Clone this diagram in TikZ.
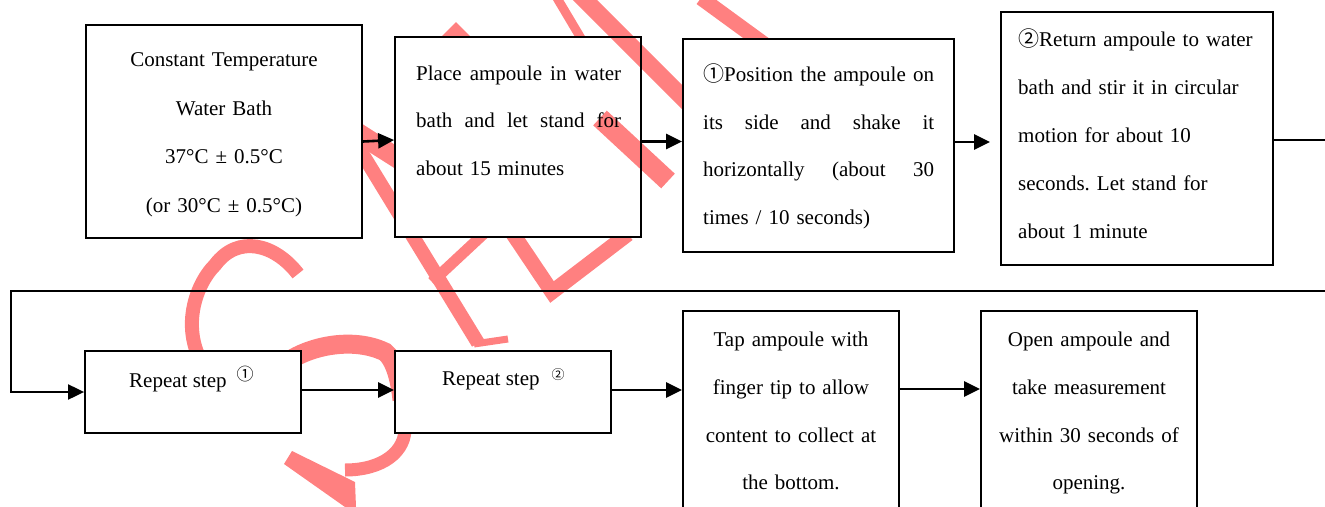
\documentclass[tikz,border=0pt]{standalone}
\usepackage{fontspec}
\setmainfont{Liberation Serif}
\newfontfamily\circfont{Noto Sans CJK SC}
\usetikzlibrary{arrows.meta,calc}
\pgfdeclarelayer{wm}
\pgfdeclarelayer{fills}
\pgfdeclarelayer{wmover}
\pgfsetlayers{wm,fills,wmover,main}
\definecolor{wmred}{RGB}{255,128,128}
\frenchspacing
\tikzset{
  box/.style={draw, line width=1.8pt, inner sep=0pt},
  txt/.style={inner sep=0pt},
  arr/.style={line width=2.6pt, -{Triangle[length=16pt,width=15pt]}},
  wmstroke/.style={draw=wmred, line cap=butt},
}
\newcommand{\jline}[2]{\leavevmode\hbox to #1{#2}}
\begin{document}
\begin{tikzpicture}[x=1pt,y=-1pt]
\useasboundingbox (0,0) rectangle (1325,506);

% ---------- boxes ----------
\node[box, minimum width=276pt, minimum height=213pt] (b1) at (224,131.5) {};
\node[box, minimum width=246pt, minimum height=200pt] (b2) at (518,137) {};
\node[box, minimum width=271pt, minimum height=213pt] (b3) at (818.5,145.5) {};
\node[box, minimum width=272pt, minimum height=253pt] (b4) at (1137,138.5) {};
\node[box, minimum width=216pt, minimum height=82pt] (r1) at (193,392) {};
\node[box, minimum width=216pt, minimum height=82pt] (r2) at (503,392) {};
\node[box, minimum width=216pt, minimum height=220pt] (tap) at (791,421) {};
\node[box, minimum width=216pt, minimum height=220pt] (open) at (1089,421) {};

% ---------- texts ----------
\node[txt, text width=276pt, align=center, anchor=base, font=\fontsize{21}{48.5}\selectfont] (t1) at (224,66.7)
  {Constant Temperature\\Water Bath\\37°C ± 0.5°C\\(or 30°C ± 0.5°C)};
\node[txt, text width=207pt, align=left, anchor=base west, font=\fontsize{21}{47.5}\selectfont] (t2) at (416,80)
  {\jline{205pt}{Place\hfill ampoule\hfill in\hfill water}\\\jline{205pt}{bath\hfill and\hfill let\hfill stand\hfill for}\\about 15 minutes};
\node[txt, text width=233pt, align=left, anchor=base west, font=\fontsize{21}{47.5}\selectfont] (t3) at (703,81.7)
  {\jline{231pt}{{\circfont ①}Position\hfill the\hfill ampoule\hfill on}\\\jline{231pt}{its\hfill side\hfill and\hfill shake\hfill it}\\\jline{231pt}{horizontally\hfill (about\hfill 30}\\times / 10 seconds)};
\node[txt, text width=250pt, align=left, anchor=base west, font=\fontsize{21}{47.9}\selectfont] (t4) at (1018,46.7)
  {{\circfont ②}Return ampoule to water\\bath and stir it in circular\\motion for about 10\\seconds. Let stand for\\about 1 minute};
\node[txt, anchor=base west, font=\fontsize{21}{24}\selectfont] (rt1) at (129,387)
  {Repeat step\hspace{10pt}\raisebox{7pt}{\circfont\fontsize{17}{17}\selectfont ①}};
\node[txt, anchor=base west, font=\fontsize{21}{24}\selectfont] (rt2) at (442,385)
  {Repeat step\hspace{12pt}\raisebox{6pt}{\circfont\fontsize{13}{13}\selectfont ②}};
\node[txt, text width=216pt, align=center, anchor=base, font=\fontsize{21}{47.8}\selectfont] (tt) at (791,346.5)
  {Tap ampoule with\\finger tip to allow\\content to collect at\\the bottom.};
\node[txt, text width=216pt, align=center, anchor=base, font=\fontsize{21}{47.8}\selectfont] (ot) at (1089,346.5)
  {Open ampoule and\\take measurement\\within 30 seconds of\\opening.};

% ---------- connectors ----------
\coordinate (a12) at ($(b1.east)+(0,10)$);
\coordinate (a23) at ($(b2.east)+(0,4.5)$);
\coordinate (a34) at ($(b3.east)+(0,-3.5)$);
\coordinate (l0) at ($(b4.east)+(0,1.5)$);
\coordinate (lr) at (1345,291);
\coordinate (ll) at (11,291);
\coordinate (c12) at ($(r1.east)+(0,-2)$);
\coordinate (c23) at ($(r2.east)+(0,-2)$);
\coordinate (c34) at ($(tap.east)+(0,-32)$);

\draw[arr] (a12) -- ($(b2.west)+(0,3)$);
\draw[arr] (a23) -- (a23 -| b3.west);
\draw[arr, shorten >=10pt] (a34) -- (a34 -| b4.west);
\draw[arr, line width=2pt] (l0) -- (l0 -| lr) -- (lr) -- (ll) -- (ll |- r1.west) -- (r1.west);
\draw[arr] (c12) -- (c12 -| r2.west);
\draw[arr] (c23) -- (c23 -| tap.west);
\draw[arr] (c34) -- (c34 -| open.west);

% ---------- white fills of the boxes ----------
\begin{pgfonlayer}{fills}
\foreach \n in {b1,b2,b3,b4,r1,r2,tap,open}
  {\fill[white] (\n.south west) rectangle (\n.north east);}
\end{pgfonlayer}

% ---------- watermark (under the boxes) ----------
\begin{pgfonlayer}{wm}
% S
\draw[wmstroke, line width=14pt] (298,274) .. controls (275,244) and (238,234) .. (215,265)
      .. controls (195,285) and (180,330) .. (205,368);
\draw[wmstroke, line width=19pt] (280,368) .. controls (300,348) and (350,335) .. (385,352)
      .. controls (395,360) and (400,380) .. (402,400);
\draw[wmstroke, line width=13pt] (405,425) .. controls (407,452) and (382,470) .. (345,470);
\fill[wmred] (284,464) -- (292,451) -- (355,482) -- (356,507) -- (345,507) -- cycle;
% A-like strokes
\draw[wmstroke, line width=11pt] (438,48) -- (456,30) -- (474,48);
\draw[wmstroke, line width=20pt] (350,128) -- (405,163);
\draw[wmstroke, line width=14pt] (360,150) -- (478,343);
\draw[wmstroke, line width=7pt] (474,344) -- (508,339);
\draw[wmstroke, line width=11pt] (432,282) -- (490,228);
% L-like stroke
\draw[wmstroke, line width=15pt] (505,222) -- (552,292) -- (628,234);
% M-like strokes
\draw[wmstroke, line width=9pt] (557,-2) -- (585,45);
\draw[wmstroke, line width=15pt] (701,-2) -- (775,52);
\end{pgfonlayer}

% ---------- watermark (over the Place box) ----------
\begin{pgfonlayer}{wmover}
\begin{scope}
\clip (0,0) rectangle (b3.west |- 0,506);
\draw[wmstroke, line width=17pt] (573,-12) -- (700,115);
\end{scope}
\draw[wmstroke, line width=20pt] (600,118) -- (668,181);
\end{pgfonlayer}
\end{tikzpicture}
\end{document}
